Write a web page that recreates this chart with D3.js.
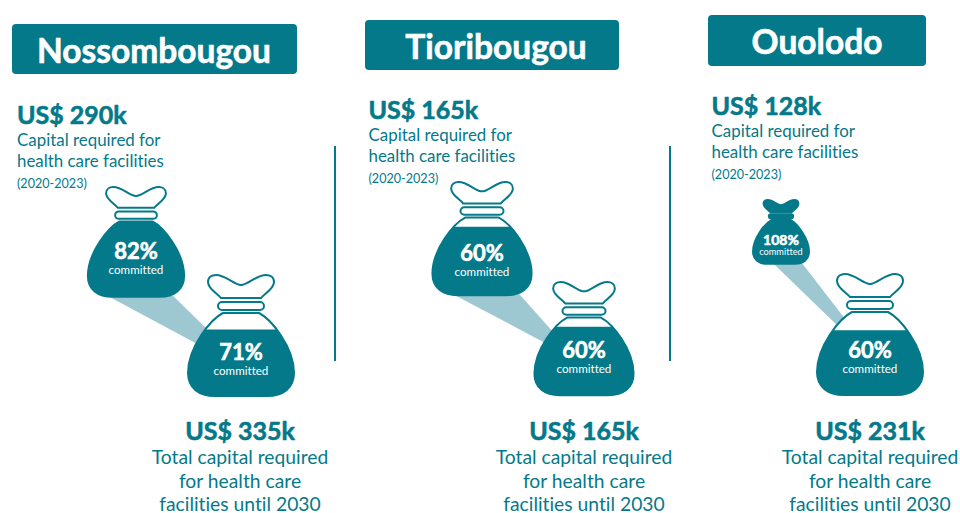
<!DOCTYPE html>
<html>
<head>
<meta charset="utf-8">
<script src="https://cdn.jsdelivr.net/npm/d3@7"></script>
<style>
html, body { margin: 0; padding: 0; background: #fff; }
text { font-family: Lato, "Open Sans", sans-serif; fill: #04798a; font-variant-ligatures: none; }
.heavy { stroke-width: 0.6; stroke-linejoin: round; }
</style>
</head>
<body>
<div id="chart"></div>
<script>
var places = ["Nossombougou", "Tioribougou", "Ouolodo"];
var capitalNow = [290, 165, 128];
var capitalTotal = [335, 165, 231];
var committedNow = [82, 60, 108];
var committedTotal = [71, 60, 60];
// how far up the bag body the colour reaches
var levelNow = [1, 0.88, 1];
var levelTotal = [0.8, 0.88, 0.78];

var width = 960, height = 513;
var teal = "#04798a", pale = "#9dc8d1";

// panel layout, one entry per place. bags are [centre x, top y, width, label offset]
var layout = [
	{ box: [12, 24, 285, 50], titleX: 154, textX: 17, textY: 124, top: [136, 187, 98, 72], bottom: [241, 275, 108, 85], lowX: 240,
		cone: [[-31, 41], [-30, 58], [-40, 71]] },
	{ box: [365, 20, 254, 50], titleX: 496, textX: 368.5, textY: 119, top: [482, 182, 101, 79], bottom: [584, 282, 101, 76], lowX: 584,
		cone: [[-31, 40], [-29, 58], [-38, 67]] },
	{ box: [708, 15, 218, 51], titleX: 817, textX: 711.5, textY: 115, top: [781, 200, 57, 45], bottom: [870, 274, 108, 84], lowX: 870,
		cone: [[-15, 40], [-21, 50], [-29, 55]] }
];
var lowY = 440;
var dividers = [335, 670];

var svg = d3.select("#chart").append("svg")
	.attr("width", width).attr("height", height);

var defs = svg.append("defs");

// bag shape drawn for a bag 108 wide and 122 tall, centred on x = 0
var knotPath = "M-20,23 C-24,18 -33,14 -33,7 C-33,2 -29,0 -25,0 C-15,0 -7,10 0,10 C7,10 15,0 25,0 C29,0 33,2 33,7 C33,14 24,18 20,23 Z";
var bodyPath = "M-18,38 L18,38 C30,44 53,72 53,98 C53,113 42,121 26,121 L-26,121 C-42,121 -53,113 -53,98 C-53,72 -30,44 -18,38 Z";
var bodyTop = 38, bodyBottom = 121;

var levelScale = d3.scaleLinear().domain([0, 1]).range([bodyBottom, bodyTop]);

function drawBag(g, b, committed, level, id) {
	var cx = b[0], top = b[1], w = b[2];
	var k = w / 108;
	var bag = g.append("g").attr("transform", "translate(" + cx + "," + top + ") scale(" + k + ")");
	var full = committed > 100;
	var line = 2 / k;

	bag.append("path").attr("d", knotPath)
		.attr("fill", full ? teal : "#fff").attr("stroke", teal).attr("stroke-width", line);
	bag.append("rect").attr("x", -23).attr("y", 27).attr("width", 46).attr("height", 8).attr("rx", 4)
		.attr("fill", full ? teal : "#fff").attr("stroke", teal).attr("stroke-width", line);
	bag.append("path").attr("d", bodyPath)
		.attr("fill", "#fff").attr("stroke", teal).attr("stroke-width", line);

	defs.append("clipPath").attr("id", id).append("rect")
		.attr("x", -60).attr("width", 120)
		.attr("y", levelScale(level)).attr("height", bodyBottom + 2 - levelScale(level));
	bag.append("path").attr("d", bodyPath)
		.attr("fill", teal).attr("clip-path", "url(#" + id + ")");

	var small = w < 70;
	g.append("text").attr("class", "heavy").attr("x", cx).attr("y", top + b[3])
		.attr("text-anchor", "middle").attr("font-size", small ? 14 : 22).attr("font-weight", 700)
		.style("fill", "#fff").style("stroke", "#fff").text(committed + "%");
	g.append("text").attr("x", cx).attr("y", top + b[3] + (small ? 10 : 14.5))
		.attr("text-anchor", "middle").attr("font-size", small ? 9.2 : 11.6)
		.style("fill", "#fff").text("committed");
}

places.forEach(function (place, i) {
	var p = layout[i];
	var g = svg.append("g");

	g.append("rect").attr("x", p.box[0]).attr("y", p.box[1])
		.attr("width", p.box[2]).attr("height", p.box[3]).attr("rx", 4).attr("fill", teal);
	g.append("text").attr("class", "heavy").attr("x", p.titleX).attr("y", p.box[1] + 39)
		.attr("text-anchor", "middle").attr("font-size", 33.5).attr("font-weight", 700)
		.style("fill", "#fff").style("stroke", "#fff").text(place);

	g.append("text").attr("class", "heavy").attr("x", p.textX).attr("y", p.textY)
		.attr("font-size", 25).attr("font-weight", 700).style("stroke", teal)
		.text("US$ " + capitalNow[i] + "k");
	g.append("text").attr("x", p.textX).attr("y", p.textY + 22)
		.attr("font-size", 16.9).text("Capital required for");
	g.append("text").attr("x", p.textX).attr("y", p.textY + 43)
		.attr("font-size", 16.9).text("health care facilities");
	g.append("text").attr("x", p.textX).attr("y", p.textY + 64)
		.attr("font-size", 12.6).text("(2020-2023)");

	// cone joining the two bags, its lower end is hidden behind the lower bag
	var a = p.top, b = p.bottom;
	var ka = a[2] / 108, kb = b[2] / 108;
	var coneY = a[1] + 120 * ka;
	g.append("polygon")
		.attr("points", [
			[a[0] + p.cone[0][0] * ka, coneY], [a[0] + p.cone[0][1] * ka, coneY],
			[b[0] + p.cone[1][0] * kb, b[1] + p.cone[1][1] * kb],
			[b[0] + p.cone[2][0] * kb, b[1] + p.cone[2][1] * kb]
		].join(" "))
		.attr("fill", pale);

	drawBag(g, a, committedNow[i], levelNow[i], "top" + i);
	drawBag(g, b, committedTotal[i], levelTotal[i], "bottom" + i);

	g.append("text").attr("class", "heavy").attr("x", p.lowX).attr("y", lowY)
		.attr("text-anchor", "middle").attr("font-size", 25).attr("font-weight", 700).style("stroke", teal)
		.text("US$ " + capitalTotal[i] + "k");
	["Total capital required", "for health care", "facilities until 2030"].forEach(function (t, j) {
		g.append("text").attr("x", p.lowX).attr("y", lowY + 24 + j * 23.5)
			.attr("text-anchor", "middle").attr("font-size", 19.3).text(t);
	});
});

dividers.forEach(function (x) {
	svg.append("line").attr("x1", x).attr("x2", x).attr("y1", 146).attr("y2", 361)
		.attr("stroke", teal).attr("stroke-width", 2);
});
</script>
</body>
</html>
